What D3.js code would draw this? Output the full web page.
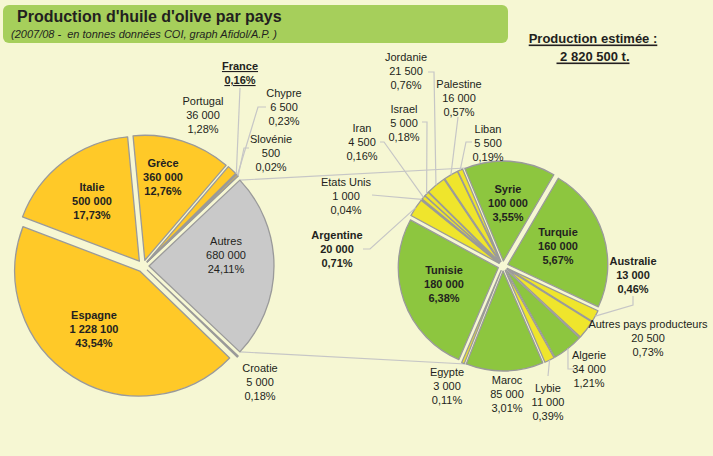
<!DOCTYPE html>
<html><head><meta charset="utf-8">
<script src="https://cdn.jsdelivr.net/npm/d3@7"></script>
<style>
html,body{margin:0;padding:0;background:#F6F7D3;}
svg{display:block;font-family:"Liberation Sans",Arial,sans-serif;}
</style></head>
<body>
<svg id="c" width="713" height="456"></svg>
<script>
// ---------- DATA ----------
const titleText = "Production d'huile d'olive par pays";
const subtitleText = "(2007/08 -  en tonnes données COI, graph Afidol/A.P. )";
const totalLines = ["Production estimée :", " 2 820 500 t."];

const leftNames  = ["Autres","Croatie","Espagne","Italie","Grèce","Portugal","France","Chypre","Slovénie"];
const leftValues = [680000, 5000, 1228100, 500000, 360000, 36000, 4400, 6500, 500];
const leftPct    = ["24,11%","0,18%","43,54%","17,73%","12,76%","1,28%","0,16%","0,23%","0,02%"];

const rightNames  = ["Syrie","Turquie","Australie","Autres pays producteurs","Algerie","Lybie","Maroc","Egypte","Tunisie","Argentine","Etats Unis","Iran","Israel","Jordanie","Palestine","Liban"];
const rightValues = [100000,160000,13000,20500,34000,11000,85000,3000,180000,20000,1000,4500,5000,21500,16000,5500];
const rightPct    = ["3,55%","5,67%","0,46%","0,73%","1,21%","0,39%","3,01%","0,11%","6,38%","0,71%","0,04%","0,16%","0,18%","0,76%","0,57%","0,19%"];

// ---------- STYLE / LAYOUT ----------
const C = {orange:"#FFC928", grey:"#C9C9C9", green:"#8DC63F", yellow:"#EFE52C", stroke:"#9A9A9A", leader:"#C6C6C6", text:"#231F20", title:"#A6CF5B"};
const leftGeo  = {cx:143, cy:266, r:125, explode:6};
const rightGeo = {cx:503, cy:266, r:100, explode:5, startDeg:-22.6};
const greenSet = new Set(["Syrie","Turquie","Algerie","Maroc","Tunisie"]);
const boldSet  = new Set(["Grèce","Italie","Espagne","Syrie","Turquie","Tunisie","Australie","Argentine","France"]);
const noValue  = new Set(["France"]);
// label centre (x, y of first line), leader start/bend
const labelPos = {
  "Autres":[226,241], "Croatie":[260,368], "Espagne":[94,315], "Italie":[92,187], "Grèce":[163,163],
  "Portugal":[203,101], "France":[240,66], "Chypre":[284,93], "Slovénie":[271,139],
  "Syrie":[508,189], "Turquie":[558,232], "Australie":[633,261], "Autres pays producteurs":[648,324],
  "Algerie":[589,355], "Lybie":[548,388], "Maroc":[507,380], "Egypte":[447,372], "Tunisie":[444,270],
  "Argentine":[337,235], "Etats Unis":[346,182], "Iran":[362,128], "Israel":[404,109],
  "Jordanie":[406,57], "Palestine":[459,84], "Liban":[488,129]
};
const leaders = {
  "France":[[240,88]], "Chypre":[[266,107],[258,107]], "Slovénie":[[249,148],[244,148]],
  "Jordanie":[[428,72],[434,72]], "Israel":[[422,122],[427,122]], "Iran":[[380,142],[384,142]],
  "Palestine":[[458,117]], "Liban":[[472,142],[466,142]], "Etats Unis":[[372,195]],
  "Argentine":[[363,249],[370,249]], "Australie":[[633,296],[633,305]],
  "Algerie":[[575,369],[568,369]], "Lybie":[[548,376]]
};

// ---------- DRAW ----------
const svg = d3.select("#c");
svg.append("rect").attr("width",713).attr("height",456).attr("fill","#F6F7D3");
svg.append("rect").attr("x",3).attr("y",5).attr("width",505).attr("height",38).attr("rx",6).attr("fill",C.title);
svg.append("text").attr("x",17).attr("y",22).attr("font-size",16).attr("font-weight","bold").attr("fill",C.text).text(titleText);
svg.append("text").attr("x",11).attr("y",38).attr("font-size",11).attr("font-style","italic").attr("fill",C.text)
  .style("white-space","pre").text(subtitleText);

const fmt = v => d3.format(",")(v).replace(/,/g," ");
const toRad = d => d*Math.PI/180;

function build(names, values, pct, geo, startAngle){
  const items = names.map((n,i)=>({name:n, value:values[i], pct:pct[i]}));
  const pie = d3.pie().value(d=>d.value).sort(null).startAngle(startAngle).endAngle(startAngle+2*Math.PI);
  const arcs = pie(items);
  arcs.forEach(a=>{
    const m=(a.startAngle+a.endAngle)/2;
    a.ox = geo.cx + Math.sin(m)*geo.explode;
    a.oy = geo.cy - Math.cos(m)*geo.explode;
    a.edge = [a.ox + Math.sin(m)*geo.r, a.oy - Math.cos(m)*geo.r];
  });
  return arcs;
}
const leftTotal = d3.sum(leftValues);
const leftStart = Math.PI/2 - Math.PI*leftValues[0]/leftTotal;
const leftArcs = build(leftNames,leftValues,leftPct,leftGeo,leftStart);
const rightArcs = build(rightNames,rightValues,rightPct,rightGeo,toRad(rightGeo.startDeg));

// connectors from "Autres" slice to second pie
const au = leftArcs[0];
const pA = [au.ox+Math.sin(au.startAngle)*leftGeo.r, au.oy-Math.cos(au.startAngle)*leftGeo.r];
const pB = [au.ox+Math.sin(au.endAngle)*leftGeo.r, au.oy-Math.cos(au.endAngle)*leftGeo.r];
const conn = svg.append("g").attr("stroke",C.leader).attr("stroke-width",1.2);
conn.append("line").attr("x1",pA[0]).attr("y1",pA[1]).attr("x2",rightGeo.cx).attr("y2",rightGeo.cy-rightGeo.r);
conn.append("line").attr("x1",pB[0]).attr("y1",pB[1]).attr("x2",rightGeo.cx).attr("y2",rightGeo.cy+rightGeo.r);

function drawPie(arcs, geo, colorFn){
  const arc = d3.arc().innerRadius(0).outerRadius(geo.r);
  svg.append("g").selectAll("path").data(arcs).join("path")
    .attr("transform",d=>`translate(${d.ox},${d.oy})`)
    .attr("d",arc).attr("fill",d=>colorFn(d.data.name))
    .attr("stroke",C.stroke).attr("stroke-width",1.3).attr("stroke-linejoin","round");
}
drawPie(leftArcs,leftGeo,n=> n==="Autres"?C.grey:C.orange);
drawPie(rightArcs,rightGeo,n=> greenSet.has(n)?C.green:C.yellow);

// leaders
const lg = svg.append("g").attr("fill","none").attr("stroke",C.leader).attr("stroke-width",1.2);
[...leftArcs,...rightArcs].forEach(a=>{
  const L = leaders[a.data.name];
  if(!L) return;
  lg.append("polyline").attr("points",[...L,a.edge].map(p=>p.join(",")).join(" "));
});

// labels
[...leftArcs,...rightArcs].forEach(a=>{
  const n=a.data.name, p=labelPos[n];
  if(!p) return;
  const lines = noValue.has(n)?[n,a.data.pct]:[n,fmt(a.data.value),a.data.pct];
  const t = svg.append("text").attr("text-anchor","middle").attr("font-size",11).attr("fill",C.text)
    .attr("font-weight",boldSet.has(n)?"bold":"normal");
  lines.forEach((s,i)=>{
    const ts = t.append("tspan").attr("x",p[0]).attr("y",p[1]+4+i*14).text(s);
    if(n==="France") ts.attr("text-decoration","underline");
  });
});

// total
const tg = svg.append("g").attr("font-size",13).attr("font-weight","bold").attr("fill",C.text).attr("text-anchor","middle");
totalLines.forEach((s,i)=>{
  const t = tg.append("text").attr("x",593).attr("y",43+i*18).style("white-space","pre").text(s);
  const b = t.node().getBBox();
  tg.append("rect").attr("x",b.x).attr("y",b.y+b.height-1.5).attr("width",b.width).attr("height",1.6).attr("fill",C.text);
});
</script>
</body></html>
